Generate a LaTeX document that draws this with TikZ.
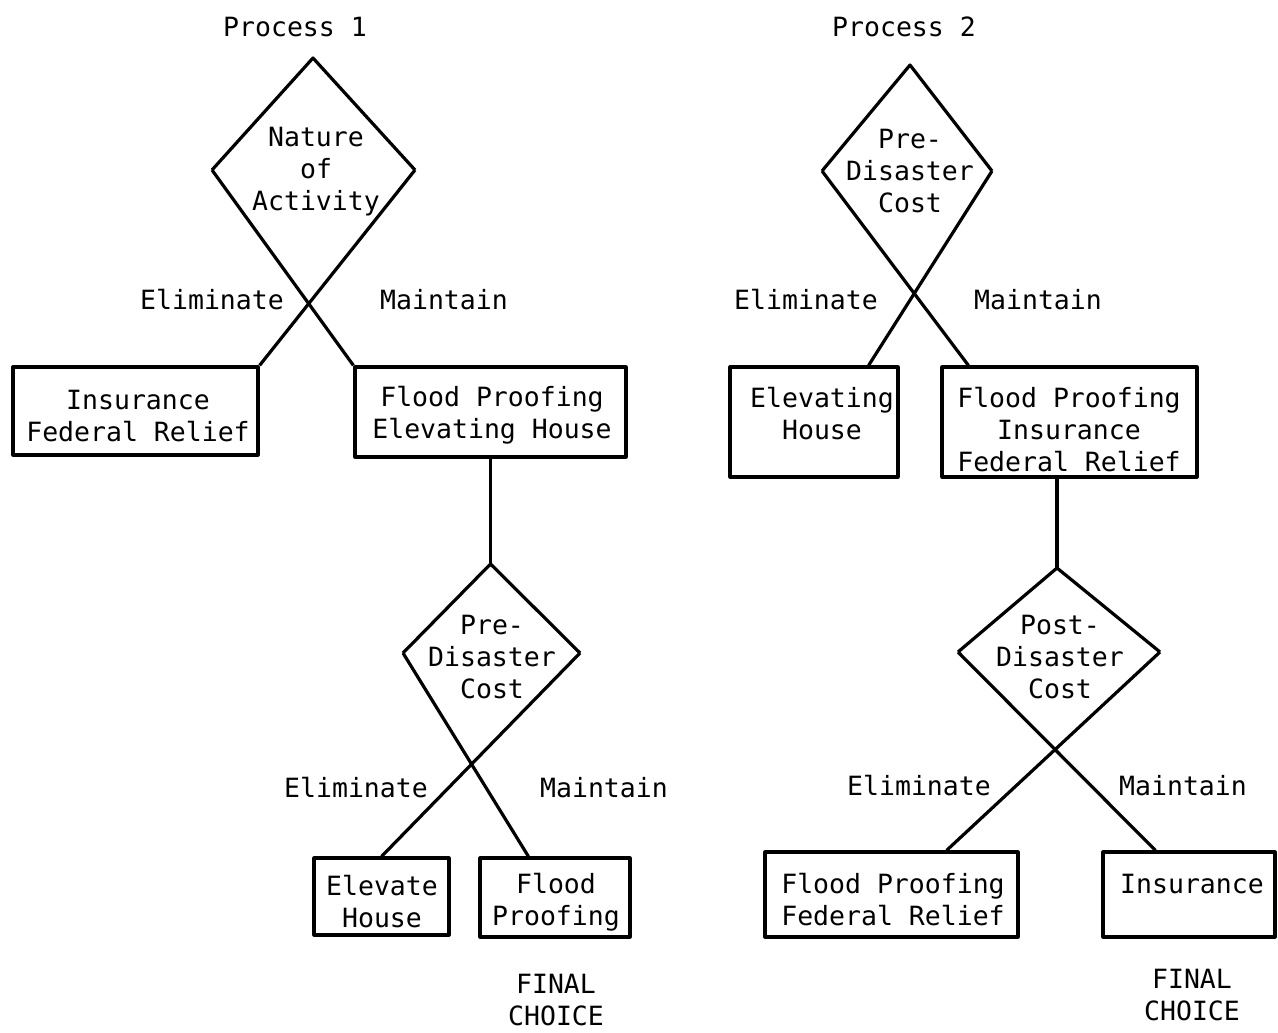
\documentclass[tikz,border=0pt]{standalone}
\usepackage{fontspec}
\setmonofont{DejaVu Sans Mono}
\begin{document}
\begin{tikzpicture}[x=1pt,y=-1pt, line width=3.2pt, line join=round,
  txt/.style={font=\fontsize{26.5}{32}\selectfont\ttfamily, align=center, inner sep=0pt},
  box/.style={draw, inner sep=0pt}]
\useasboundingbox (0,0) rectangle (1278,1033);
\fill[white] (0,0) rectangle (1278,1033);

% ---------- Process 1 ----------
\node[txt] (p1) at (295,27) {Process 1};
\coordinate (T1) at (313,58);
\coordinate (L1) at (212,170);
\coordinate (R1) at (415,170);
\node[txt] (d1) at (316,172) {Nature\\of\\Activity};

\node[box, minimum width=245pt, minimum height=88pt] (ins1) at (135.5,411) {};
\node[txt] (ins1t) at (138,416) {Insurance\\Federal Relief};
\node[box, minimum width=271pt, minimum height=90pt] (fp1) at (490.5,412) {};
\node[txt] (fp1t) at (492,415) {Flood Proofing\\Elevating House};

\node[txt] (e1) at (212,300) {Eliminate};
\node[txt] (m1) at (444,300) {Maintain};

\draw (L1) -- (T1) -- (R1);
\draw (L1) -- (fp1.north west);
\draw (R1) -- (ins1.north east);

\coordinate (T2) at (490.5,564);
\coordinate (L2) at (403,653);
\coordinate (R2) at (580,653);
\node[txt] (d2) at (492,657) {Pre-\\Disaster\\Cost};
\draw (fp1.south) -- (T2);

\node[box, minimum width=135pt, minimum height=77pt] (elev1) at (381.5,896.5) {};
\node[txt] (elev1t) at (382,902) {Elevate\\House};
\node[box, minimum width=150pt, minimum height=79pt] (flood1) at (555,897.5) {};
\node[txt] (flood1t) at (556,902) {Flood\\Proofing};

\node[txt] (e2) at (356,788) {Eliminate};
\node[txt] (m2) at (604,788) {Maintain};

\draw (L2) -- (T2) -- (R2);
\draw (L2) -- ([xshift=50pt]flood1.north west);
\draw (R2) -- ([xshift=-69pt]elev1.north east);

\node[txt] (fc1) at (556,1000) {FINAL\\CHOICE};

% ---------- Process 2 ----------
\node[txt] (p2) at (904,27) {Process 2};
\coordinate (T3) at (910,65);
\coordinate (L3) at (822,171);
\coordinate (R3) at (992,171);
\node[txt] (d3) at (910,171) {Pre-\\Disaster\\Cost};

\node[box, minimum width=168pt, minimum height=110pt] (elev2) at (814,422) {};
\node[txt] (elev2t) at (822,414) {Elevating\\House};
\node[box, minimum width=255pt, minimum height=110pt] (fp2) at (1069.5,422) {};
\node[txt] (fp2t) at (1069,430) {Flood Proofing\\Insurance\\Federal Relief};

\node[txt] (e3) at (806,300) {Eliminate};
\node[txt] (m3) at (1038,300) {Maintain};

\draw (L3) -- (T3) -- (R3);
\draw (L3) -- ([xshift=28pt]fp2.north west);
\draw (R3) -- ([xshift=-31pt]elev2.north east);

\coordinate (T4) at (1057,568);
\coordinate (L4) at (958,652);
\coordinate (R4) at (1160,652);
\node[txt] (d4) at (1060,657) {Post-\\Disaster\\Cost};
\draw ([xshift=-12.5pt]fp2.south) -- (T4);

\node[box, minimum width=253pt, minimum height=85pt] (ffr2) at (891.5,894.5) {};
\node[txt] (ffr2t) at (893,900) {Flood Proofing\\Federal Relief};
\node[box, minimum width=172pt, minimum height=85pt] (ins2) at (1189,894.5) {};
\node[txt] (ins2t) at (1192,884) {Insurance};

\node[txt] (e4) at (919,786) {Eliminate};
\node[txt] (m4) at (1183,786) {Maintain};

\draw (L4) -- (T4) -- (R4);
\draw (L4) -- ([xshift=54pt]ins2.north west);
\draw (R4) -- ([xshift=-73pt]ffr2.north east);

\node[txt] (fc2) at (1192,995) {FINAL\\CHOICE};
\end{tikzpicture}
\end{document}
